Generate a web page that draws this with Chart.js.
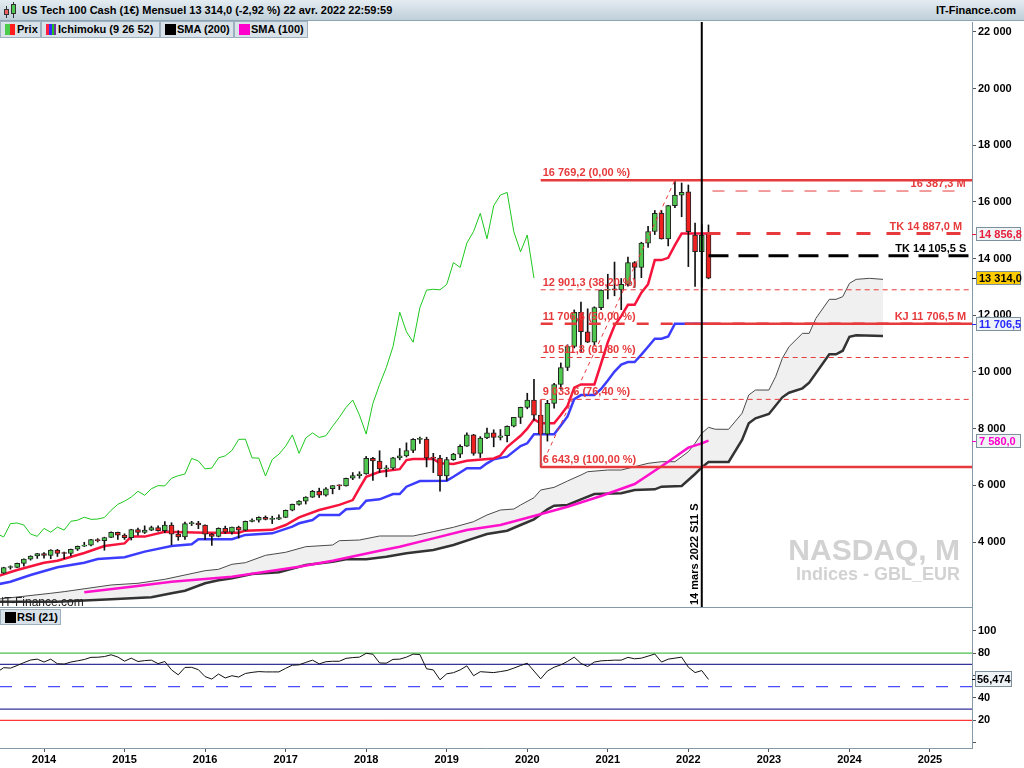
<!DOCTYPE html>
<html lang="fr">
<head>
<meta charset="utf-8">
<title>US Tech 100 Cash (1€) - Mensuel</title>
<script src="https://cdn.jsdelivr.net/npm/chart.js@4.4.1/dist/chart.umd.min.js"></script>
<style>
  body { margin: 0; background: #fff; font-family: "Liberation Sans", Arial, sans-serif; }
  #page { position: relative; width: 1024px; height: 768px; overflow: hidden; background: #fff; }
  #page canvas { position: absolute; left: 0; }
  #grPrix { top: 0; }
  #grRsi { top: 608px; }
  #entete { position: absolute; left: 0; top: 0; width: 1024px; height: 21px; box-sizing: border-box;
    background: linear-gradient(#e4ecf1, #bfcfd9); border-bottom: 1px solid #8ea4b2;
    font-size: 11px; font-weight: bold; line-height: 21px; }
  #entete .titre { position: absolute; left: 22px; top: 0; }
  #entete .site { position: absolute; right: 8px; top: 0; }
  .corps { position: absolute; border: 1px solid #333; box-sizing: border-box; }
  .trait { position: absolute; width: 1px; background: #333; }
  .bouton { position: absolute; height: 17px; box-sizing: border-box; background: #d8e2e8; border: 1px solid #9db0bd;
    font-size: 11px; font-weight: bold; line-height: 15px; padding-left: 16px; white-space: nowrap; }
  .bouton i { position: absolute; top: 2px; height: 11px; }
  .filigrane { position: absolute; right: 64px; color: #d2d2d2; font-weight: bold; white-space: nowrap; }
  #site2 { position: absolute; left: 1px; top: 596px; font-size: 12px; line-height: 12px; color: #222; }
  #sep { position: absolute; left: 0; top: 607px; width: 972px; height: 1px; background: #8399a8; }
</style>
</head>
<body>
<div id="page">
  <canvas id="grPrix" width="1024" height="608"></canvas>
  <canvas id="grRsi" width="1024" height="160"></canvas>

  <div id="entete">
    <div class="trait" style="left:6px;top:6px;height:12px"></div>
    <div class="corps" style="left:4px;top:9px;width:5px;height:6px;background:#f06060"></div>
    <div class="trait" style="left:13px;top:2px;height:16px"></div>
    <div class="corps" style="left:11px;top:4px;width:5px;height:10px;background:#50c850"></div>
    <span class="titre">US Tech 100 Cash (1€) Mensuel 13 314,0 (-2,92 %) 22 avr. 2022 22:59:59</span>
    <span class="site">IT-Finance.com</span>
  </div>

  <div class="bouton" style="left:0;top:21px;width:41px">
    <i style="left:4px;width:5px;background:#4ccc4c"></i><i style="left:9px;width:5px;background:#ff1c1c"></i>Prix</div>
  <div class="bouton" style="left:41px;top:21px;width:119px">
    <i style="left:4px;width:3px;background:#ff2040"></i><i style="left:7px;width:3px;background:#3030ff"></i><i style="left:10px;width:2px;background:#20c020"></i><i style="left:12px;width:2px;background:#7030a0"></i>Ichimoku (9 26 52)</div>
  <div class="bouton" style="left:160px;top:21px;width:74px">
    <i style="left:4px;width:11px;background:#000"></i>SMA (200)</div>
  <div class="bouton" style="left:234px;top:21px;width:74px">
    <i style="left:4px;width:11px;background:#ff00cc"></i>SMA (100)</div>

  <div class="filigrane" style="top:535px;font-size:30px;line-height:30px">NASDAQ, M</div>
  <div class="filigrane" style="top:565px;font-size:18px;line-height:18px">Indices - GBL_EUR</div>
  <div id="site2">IT-Finance.com</div>
  <div id="sep"></div>

  <div class="bouton" style="left:0;top:609px;width:61px;height:16px;line-height:14px">
    <i style="left:4px;width:11px;background:#000"></i>RSI (21)</div>
</div>

<script>
// Valeurs mensuelles (mois 0 = janvier 2014)
const moisDepart = -6; // premier chandelier : juillet 2013
const ouvertures = [
  2900, 3100, 3105, 3248, 3395, 3505,
  3595, 3525, 3715, 3600, 3595, 3745, 3850, 3890, 4085, 4050, 4160, 4340,
  4240, 4150, 4440, 4340, 4420, 4510, 4400, 4600, 4280, 4180, 4650, 4670,
  4600, 4280, 4200, 4480, 4345, 4525, 4420, 4730, 4770, 4875, 4800, 4810,
  4865, 5120, 5330, 5440, 5585, 5790, 5650, 5880, 5990, 5980, 6250, 6340,
  6400, 6950, 6860, 6580, 6610, 6970, 7040, 7230, 7620, 7630, 6970, 6960,
  6330, 6910, 7100, 7380, 7780, 7130, 7670, 7850, 7690, 7750, 8085, 8400,
  8750, 9010, 8480, 7810, 8890, 9560, 10160, 10900, 12110, 11420, 11050, 12270,
  12890, 12920, 12900, 13090, 13860, 13690, 14550, 14960, 15600, 14700, 15870, 16245,
  16360, 14830, 14245, 14856.8
];
const plusHauts = [
  3110, 3160, 3260, 3410, 3515, 3600,
  3630, 3730, 3740, 3640, 3750, 3860, 3990, 4090, 4120, 4170, 4360, 4350,
  4290, 4450, 4490, 4570, 4560, 4570, 4720, 4680, 4400, 4700, 4730, 4730,
  4610, 4300, 4500, 4560, 4530, 4560, 4740, 4820, 4890, 4920, 4910, 4960,
  5130, 5340, 5460, 5600, 5820, 5900, 5920, 5990, 6020, 6260, 6450, 6480,
  7020, 6990, 7220, 6700, 6990, 7300, 7500, 7650, 7700, 7700, 7130, 7060,
  6990, 7130, 7430, 7850, 7800, 7720, 8020, 7960, 7970, 8100, 8400, 8760,
  9250, 9740, 8990, 9000, 9600, 10320, 10960, 12190, 12470, 12230, 12300, 12900,
  13450, 13880, 13300, 14060, 13900, 14580, 15140, 15700, 15700, 15880, 16769.2, 16670,
  16600, 15260, 15200, 15190
];
const plusBas = [
  2890, 3040, 3090, 3150, 3360, 3420,
  3430, 3410, 3490, 3410, 3510, 3700, 3840, 3860, 4000, 3710, 4150, 4090,
  4090, 4070, 4240, 4300, 4400, 4380, 4330, 3900, 4060, 4090, 4580, 4470,
  4090, 3880, 4180, 4300, 4280, 4140, 4400, 4710, 4700, 4780, 4650, 4790,
  4860, 5100, 5300, 5340, 5570, 5570, 5620, 5700, 5850, 5970, 6200, 6250,
  6390, 6170, 6450, 6300, 6560, 6900, 7000, 7150, 7480, 6650, 6450, 5790,
  6170, 6880, 6980, 7370, 7060, 6980, 7650, 7360, 7600, 7530, 8060, 8180,
  8700, 8300, 6643.9, 7560, 8720, 9390, 10050, 10850, 10680, 11040, 10950, 12200,
  12580, 12690, 12200, 13030, 12990, 13330, 14400, 14850, 14690, 14450, 15800, 15480,
  13720, 13020, 13005, 13290
];
const clotures = [
  3100, 3105, 3248, 3395, 3505, 3595,
  3525, 3715, 3600, 3595, 3745, 3850, 3890, 4085, 4050, 4160, 4340, 4240,
  4150, 4440, 4340, 4420, 4510, 4400, 4600, 4280, 4180, 4650, 4670, 4600,
  4280, 4200, 4480, 4345, 4525, 4420, 4730, 4770, 4875, 4800, 4810, 4865,
  5120, 5330, 5440, 5585, 5790, 5650, 5880, 5990, 5980, 6250, 6340, 6400,
  6950, 6860, 6580, 6610, 6970, 7040, 7230, 7620, 7630, 6970, 6960, 6330,
  6910, 7100, 7380, 7780, 7130, 7670, 7850, 7690, 7750, 8085, 8400, 8750,
  9010, 8480, 7810, 8890, 9560, 10160, 10900, 12110, 11420, 11050, 12270, 12890,
  12920, 12900, 13090, 13860, 13690, 14550, 14960, 15600, 14700, 15870, 16245, 16340,
  14950, 14245, 14834, 13314
];
const decalageChikou = 26;

// Ichimoku (9 26 52) et SMA 100 : sommets [mois, valeur]
const tenkan = [[-7, 2790], [-4, 3010], [0, 3270], [2, 3340], [6, 3610], [9, 3860], [12, 3950], [13, 4190],
  [15, 4190], [18, 4360], [24, 4330], [29, 4330], [30, 4400], [34, 4430], [36, 4600], [38, 4870], [41, 5130],
  [44, 5310], [46, 5480], [47, 5900], [48, 6300], [50, 6480], [53, 6570], [54, 6890], [55, 6930], [58, 6930],
  [59, 6780], [61, 6750], [63, 6870], [67, 6950], [68, 7050], [69, 7350], [70, 7550], [71, 7750], [72, 8000],
  [73, 8330], [74, 8190], [76, 8190], [77, 8482], [78, 8802], [79, 9450], [80, 9560], [82, 9560], [83, 10300],
  [84, 11050], [85, 11640], [86, 11970], [87, 12370], [88, 12370], [89, 12800], [90, 13100], [91, 13950],
  [92, 13950], [93, 14030], [94, 14480], [95, 14887], [99, 14887]];
const kijun = [[-7, 2500], [-5, 2600], [-2, 2835], [2, 3107], [6, 3270], [8, 3400], [12, 3460], [15, 3660],
  [19, 3860], [22, 3920], [23, 4095], [28, 4095], [30, 4250], [34, 4306], [37, 4540], [38, 4660], [40, 4776],
  [41, 4953], [44, 4953], [45, 5154], [47, 5189], [48, 5458], [50, 5507], [52, 5694], [53, 5694], [54, 5952],
  [56, 6153], [60, 6164], [61, 6304], [63, 6601], [65, 6601], [66, 6777], [67, 6918], [69, 7011], [71, 7388],
  [72, 7483], [73, 7800], [76, 7800], [77, 8110], [78, 8430], [79, 9045], [80, 9185], [82, 9185], [83, 9400],
  [84, 9700], [85, 10015], [86, 10262], [87, 10352], [88, 10352], [89, 10612], [90, 10892], [91, 11172],
  [92, 11172], [93, 11252], [94, 11706.5], [99, 11706.5]];
const senkouA = [[-7, 1980], [1, 2190], [3, 2247], [10, 2483], [14, 2543], [18, 2684], [21, 2835], [24, 2987],
  [26, 3036], [28, 3213], [30, 3270], [33, 3530], [36, 3637], [39, 3835], [43, 3894], [44, 4046], [47, 4070],
  [50, 4212], [55, 4212], [58, 4364], [61, 4519], [64, 4717], [66, 4953], [68, 5129], [70, 5164], [71, 5306],
  [73, 5563], [74, 5835], [76, 5929], [78, 6153], [80, 6364], [81, 6481], [84, 6541], [86, 6541], [88, 6658],
  [90, 6777], [92, 6834], [94, 6834], [96, 7187], [97, 7483], [98, 7836], [99, 8047], [100, 7980], [102, 7977],
  [104, 8542], [105, 9188], [106, 9364], [108, 9364], [109, 9834], [110, 10482], [111, 10894], [113, 11364],
  [114, 11364], [115, 11894], [117, 12565], [118, 12565], [119, 12659], [120, 13129], [121, 13270],
  [123, 13306], [125, 13270]];
const senkouB = [[-7, 1893], [2, 1893], [10, 1978], [16, 2049], [19, 2190], [21, 2282], [24, 2543], [26, 2650],
  [28, 2719], [31, 2871], [35, 2930], [39, 3188], [43, 3305], [45, 3390], [48, 3390], [51, 3482], [54, 3600],
  [58, 3718], [61, 3894], [64, 4129], [66, 4282], [69, 4399], [71, 4600], [73, 4801], [75, 5154], [76, 5281],
  [78, 5306], [80, 5507], [82, 5694], [86, 5718], [88, 5835], [91, 5860], [92, 5952], [95, 5976], [97, 6400],
  [98, 6636], [99, 6823], [102, 6823], [104, 7600], [105, 8189], [106, 8365], [108, 8517], [110, 9106],
  [111, 9269], [113, 9424], [114, 9622], [117, 10624], [118, 10624], [119, 10751], [120, 11245], [121, 11294],
  [125, 11270]];
const sma100 = [[6, 2225], [13, 2423], [19, 2600], [28, 2776], [33, 2953], [38, 3128], [43, 3340], [50, 3693],
  [53, 3834], [58, 4129], [63, 4423], [68, 4600], [73, 4917], [78, 5246], [83, 5623], [88, 6047], [93, 6834],
  [96, 7330], [98, 7483], [99, 7580]];

// Retracements de Fibonacci (creux mars 2020 -> sommet novembre 2021)
const niveauxFibo = [16769.2, 12901.3, 11706.6, 10511.8, 9033.6, 6643.9];
const textesFibo = ['16 769,2 (0,00 %)', '12 901,3 (38,20 %)', '11 706,6 (50,00 %)',
  '10 511,8 (61,80 %)', '9 033,6 (76,40 %)', '6 643,9 (100,00 %)'];
const moisCreux = 74;
const moisSommet = 94;

// Niveaux Ichimoku reportés à droite
const niveauxSignal = [16387.3, 14887.0, 14105.5, 11706.5];
const textesSignal = ['16 387,3 M', 'TK 14 887,0 M', 'TK 14 105,5 S', 'KJ 11 706,5 M'];
const debutsSignal = [99.6, 98.7, 99, 97];
const finsSignal = [137.3, 136.8, 137.8, 138.3];

// Axe des prix : graduations et étiquettes encadrées
const graduationsPrix = [4000, 6000, 8000, 10000, 12000, 14000, 16000, 18000, 20000, 22000];
const valeursCadres = [14856.8, 13314.0, 11706.5, 7580.0];
const textesCadres = ['14 856,8', '13 314,0', '11 706,5', '7 580,0'];

const moisRepere = 98;
const texteRepere = '14 mars 2022 S11 S';

// RSI (21)
const rsiDepart = -7;
const rsi21 = [63, 67, 66.6, 68.9, 71.5, 73.8, 74.6,
  72, 74.6, 70.5, 70.2, 72, 73.1, 74.3, 76.2, 76.3, 76.9, 78.5, 76.5,
  72.8, 75.5, 72.5, 73.3, 73.7, 70.6, 72.5, 65, 60.6, 67.2, 67.3, 65.2,
  59, 56.8, 61.3, 57.8, 59.8, 58.6, 61.8, 62.8, 63.5, 63.2, 63.2, 63.2,
  66.4, 69.2, 69.5, 71.7, 73.7, 70.4, 72.3, 72.7, 72.7, 75.3, 76, 76.4,
  79.8, 79, 71.2, 71, 74.4, 74.6, 76.4, 79.1, 78.7, 66, 65, 56.2,
  61.5, 62.5, 65, 68.6, 59.8, 63.4, 63, 62.6, 63.5, 64.5, 66.6, 68.9,
  71, 64, 57, 64, 67.4, 69.5, 72.6, 76.4, 70.8, 68, 72, 73.1,
  73.4, 73.7, 73.7, 76.2, 74.9, 75.5, 77.3, 79.2, 72, 74.6, 75.5, 76.4,
  67.4, 62.6, 64.4, 56.474];
const niveauxRsi = [80, 70, 50, 30, 20];
const graduationsRsi = [0, 10, 20, 30, 40, 50, 60, 70, 80, 90, 100, 110];
const etiquettesRsi = [20, 40, 80, 100];
const texteRsi = '56,474';

// Axe du temps : un repère par janvier
const annees = [2014, 2015, 2016, 2017, 2018, 2019, 2020, 2021, 2022, 2023, 2024, 2025];

// --- mise en page ---
const police = '"Liberation Sans", Arial, sans-serif';
Chart.defaults.font.family = police;
Chart.defaults.color = '#000';

const xMin = -44 / 6.712;
const xMax = (972 - 44) / 6.712;
const yBas = 1705.9, yHaut = 22352.9;
const rBas = -4.73, rHaut = 120.27;

const vert = '#50c850', rouge = '#ee2020', rougeNiv = '#e63a3c';
const bordAxe = '#8399a8';

function milliers(v, dec) {
  const s = v.toFixed(dec || 0).split('.');
  const e = s[0].replace(/\B(?=(\d{3})+(?!\d))/g, ' ');
  return s[1] ? e + ',' + s[1] : e;
}

function ligne(points, couleur, epaisseur, tirets) {
  return {
    type: 'line',
    data: points.map(p => ({ x: p[0], y: p[1] })),
    borderColor: couleur,
    borderWidth: epaisseur,
    borderDash: tirets || [],
    pointRadius: 0,
    fill: false,
    tension: 0
  };
}

const corps = ouvertures.map((o, i) => ({ x: moisDepart + i, y: [o, clotures[i]] }));
const meches = plusBas.map((b, i) => ({ x: moisDepart + i, y: [b, plusHauts[i]] }));
const chikou = clotures.map((c, i) => [moisDepart + i - decalageChikou, c]);

const stylesFibo = [[2.5, []], [1, [5, 4]], [2.5, [12, 12]], [1, [5, 4]], [1, [5, 4]], [2.5, []]];
const stylesSignal = [[rougeNiv, 1, [12, 11]], [rougeNiv, 3, [14, 16]], ['#000', 3, [20, 10]], [rougeNiv, 2.5, []]];

const jeux = [];
jeux.push(ligne([[moisRepere, yBas], [moisRepere, yHaut]], '#000', 2));
niveauxSignal.forEach((v, i) => {
  const st = stylesSignal[i];
  jeux.push(ligne([[debutsSignal[i], v], [finsSignal[i], v]], st[0], st[1], st[2]));
});
niveauxFibo.forEach((v, i) => {
  jeux.push(ligne([[moisCreux, v], [xMax, v]], rougeNiv, stylesFibo[i][0], stylesFibo[i][1]));
});
jeux.push(ligne([[moisCreux, niveauxFibo[5]], [moisCreux, niveauxFibo[4]]], rougeNiv, 1.5));
jeux.push(ligne([[moisCreux, niveauxFibo[5]], [moisSommet, niveauxFibo[0]]], rougeNiv, 1, [4, 4]));
jeux.push({
  type: 'bar', data: corps, grouped: false, barThickness: 5, minBarLength: 1,
  borderColor: '#222', borderWidth: 1, borderSkipped: false,
  backgroundColor: ctx => {
    const r = ctx.raw;
    return r && r.y[1] >= r.y[0] ? vert : rouge;
  }
});
jeux.push({ type: 'bar', data: meches, grouped: false, barThickness: 1, backgroundColor: '#111', borderWidth: 0 });
jeux.push(ligne(tenkan, '#f7143c', 2.5));
jeux.push(ligne(kijun, '#3c3cff', 2.5));
jeux.push(ligne(chikou, '#1ec81e', 1));
jeux.push(ligne(sma100, '#ff10cc', 2.5));
const nuage = ligne(senkouA, '#4a4a4a', 1);
nuage.fill = '+1';
nuage.backgroundColor = '#f0f0f0';
jeux.push(nuage);
jeux.push(ligne(senkouB, '#333', 2.5));

const decorPrix = {
  id: 'decorPrix',
  afterDraw(chart) {
    const { ctx, scales: { x, y } } = chart;
    ctx.save();
    ctx.font = 'bold 11px ' + police;
    ctx.textBaseline = 'alphabetic';
    ctx.fillStyle = rougeNiv;
    ctx.textAlign = 'left';
    niveauxFibo.forEach((v, i) => {
      ctx.fillText(textesFibo[i], x.getPixelForValue(moisCreux) + 2, y.getPixelForValue(v) - 4);
    });
    ctx.textAlign = 'right';
    niveauxSignal.forEach((v, i) => {
      ctx.fillStyle = stylesSignal[i][0];
      const fin = Math.min(finsSignal[i], 137.4);
      ctx.fillText(textesSignal[i], x.getPixelForValue(fin), y.getPixelForValue(v) - 4);
    });

    // texte vertical le long du repère
    ctx.save();
    ctx.translate(x.getPixelForValue(moisRepere) - 4, chart.chartArea.bottom - 2);
    ctx.rotate(-Math.PI / 2);
    ctx.textAlign = 'left';
    ctx.fillStyle = '#000';
    ctx.fillText(texteRepere, 0, 0);
    ctx.restore();

    // cadres de l'axe
    const couleursTexte = ['#e8203c', '#000', '#2828ff', '#ff00cc'];
    const fonds = ['#eef3f6', '#ffcc00', '#eef3f6', '#eef3f6'];
    const gauche = chart.chartArea.right;
    valeursCadres.forEach((v, i) => {
      const py = Math.round(y.getPixelForValue(v));
      ctx.fillStyle = fonds[i];
      ctx.fillRect(gauche + 4, py - 7, 45, 14);
      ctx.strokeStyle = '#7d909c';
      ctx.lineWidth = 1;
      ctx.strokeRect(gauche + 4.5, py - 6.5, 44, 13);
      ctx.strokeStyle = couleursTexte[i];
      ctx.beginPath();
      ctx.moveTo(gauche, py + 0.5);
      ctx.lineTo(gauche + 4, py + 0.5);
      ctx.stroke();
      ctx.fillStyle = couleursTexte[i];
      ctx.textAlign = 'left';
      ctx.fillText(textesCadres[i], gauche + 7, py + 4);
    });
    ctx.restore();
  }
};

new Chart(document.getElementById('grPrix'), {
  type: 'line',
  data: { datasets: jeux },
  options: {
    responsive: false,
    animation: false,
    devicePixelRatio: 1,
    layout: { padding: { top: 22, bottom: 1, left: 0, right: 0 } },
    plugins: { legend: { display: false }, tooltip: { enabled: false }, filler: { drawTime: 'beforeDatasetsDraw' } },
    scales: {
      x: { type: 'linear', min: xMin, max: xMax, offset: false, display: false },
      y: {
        position: 'right', min: yBas, max: yHaut,
        afterBuildTicks: s => { s.ticks = graduationsPrix.map(v => ({ value: v })); },
        afterFit: s => { s.width = 52; s.paddingTop = 0; s.paddingBottom = 0; },
        ticks: { padding: 2, font: { size: 11, weight: 'bold' }, callback: v => milliers(v) },
        grid: { drawOnChartArea: false, tickLength: 4, color: '#555' },
        border: { display: true, color: bordAxe }
      }
    }
  },
  plugins: [decorPrix]
});

// --- RSI ---
const rsiJeux = [ligne(rsi21.map((v, i) => [rsiDepart + i, v]), '#111', 1)];
const stylesRsi = [['#20b020', []], ['#000080', []], ['#2020ff', [12, 12]], ['#000080', []], ['#ff0000', []]];
niveauxRsi.forEach((v, i) => rsiJeux.push(ligne([[xMin, v], [xMax, v]], stylesRsi[i][0], 1, stylesRsi[i][1])));

const decorRsi = {
  id: 'decorRsi',
  afterDraw(chart) {
    const { ctx, scales: { y } } = chart;
    const py = Math.round(y.getPixelForValue(rsi21[rsi21.length - 1]));
    const gauche = chart.chartArea.right;
    ctx.save();
    ctx.fillStyle = '#eef3f6';
    ctx.fillRect(gauche + 3, py - 8, 37, 16);
    ctx.strokeStyle = '#7d909c';
    ctx.strokeRect(gauche + 3.5, py - 7.5, 36, 15);
    ctx.strokeStyle = '#000';
    ctx.beginPath();
    ctx.moveTo(gauche, py + 0.5);
    ctx.lineTo(gauche + 3, py + 0.5);
    ctx.stroke();
    ctx.fillStyle = '#000';
    ctx.font = 'bold 11px ' + police;
    ctx.fillText(texteRsi, gauche + 5, py + 4);
    ctx.restore();
  }
};

new Chart(document.getElementById('grRsi'), {
  type: 'line',
  data: { datasets: rsiJeux },
  options: {
    responsive: false,
    animation: false,
    devicePixelRatio: 1,
    layout: { padding: 0 },
    plugins: { legend: { display: false }, tooltip: { enabled: false } },
    scales: {
      x: {
        type: 'linear', min: xMin, max: xMax, offset: false,
        afterBuildTicks: s => { s.ticks = annees.map((a, i) => ({ value: i * 12 })); },
        afterFit: s => { s.height = 20; s.paddingLeft = 0; s.paddingRight = 0; },
        ticks: { autoSkip: false, maxRotation: 0, padding: 1, font: { size: 11, weight: 'bold' },
          callback: v => annees[Math.round(v / 12)] },
        grid: { drawOnChartArea: false, tickLength: 4, color: '#555' },
        border: { display: true, color: bordAxe }
      },
      y: {
        position: 'right', min: rBas, max: rHaut,
        afterBuildTicks: s => { s.ticks = graduationsRsi.map(v => ({ value: v })); },
        afterFit: s => { s.width = 52; s.paddingTop = 0; s.paddingBottom = 0; },
        ticks: { padding: 2, font: { size: 11, weight: 'bold' },
          callback: v => (etiquettesRsi.includes(v) ? v : '') },
        grid: { drawOnChartArea: false, tickLength: 4, color: '#555' },
        border: { display: true, color: bordAxe }
      }
    }
  },
  plugins: [decorRsi]
});
</script>
</body>
</html>
